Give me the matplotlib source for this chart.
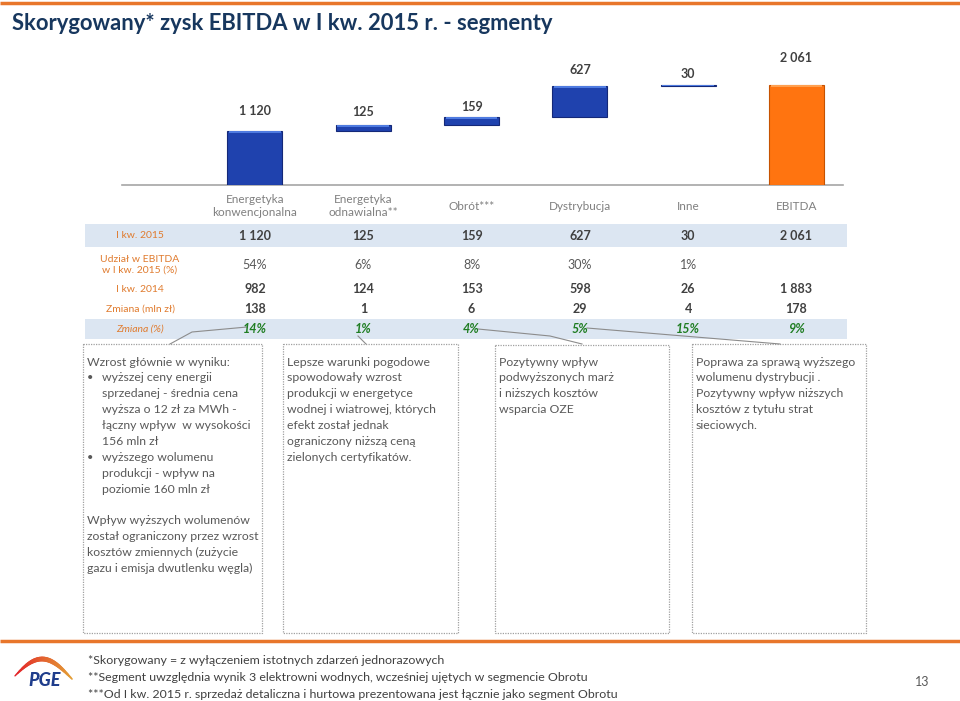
import matplotlib
matplotlib.use('Agg')
import matplotlib.pyplot as plt
import numpy as np
from matplotlib.patches import Rectangle
from matplotlib.collections import LineCollection

plt.rcParams['font.family'] = ['Lato', 'DejaVu Sans']

# ---------------- data ----------------
title = "Skorygowany* zysk EBITDA w I kw. 2015 r. - segmenty"
categories = ["Energetyka\nkonwencjonalna", "Energetyka\nodnawialna**", "Obrót***",
              "Dystrybucja", "Inne", "EBITDA"]
segment_2015 = [1120, 125, 159, 627, 30]
total_2015 = 2061
share_2015 = ["54%", "6%", "8%", "30%", "1%", ""]
ebitda_2014 = [982, 124, 153, 598, 26, 1883]
change_mln = [138, 1, 6, 29, 4, 178]
change_pct = ["14%", "1%", "4%", "5%", "15%", "9%"]
row_labels = ["I kw. 2015", "Udział w EBITDA\nw I kw. 2015 (%)", "I kw. 2014",
              "Zmiana (mln zł)", "Zmiana (%)"]

box_texts = [
    [("Wzrost głównie w wyniku:", 0, False),
     ("wyższej ceny energii", 1, True),
     ("sprzedanej - średnia cena", 1, False),
     ("wyższa o 12 zł za MWh -", 1, False),
     ("łączny wpływ  w wysokości", 1, False),
     ("156 mln zł", 1, False),
     ("wyższego wolumenu", 1, True),
     ("produkcji - wpływ na", 1, False),
     ("poziomie 160 mln zł", 1, False),
     ("", 0, False),
     ("Wpływ wyższych wolumenów", 0, False),
     ("został ograniczony przez wzrost", 0, False),
     ("kosztów zmiennych (zużycie", 0, False),
     ("gazu i emisja dwutlenku węgla)", 0, False)],
    [(t, 0, False) for t in ["Lepsze warunki pogodowe", "spowodowały wzrost",
                             "produkcji w energetyce", "wodnej i wiatrowej, których",
                             "efekt został jednak", "ograniczony niższą ceną",
                             "zielonych certyfikatów."]],
    [(t, 0, False) for t in ["Pozytywny wpływ", "podwyższonych marż",
                             "i niższych kosztów", "wsparcia OZE"]],
    [(t, 0, False) for t in ["Poprawa za sprawą wyższego", "wolumenu dystrybucji .",
                             "Pozytywny wpływ niższych", "kosztów z tytułu strat",
                             "sieciowych."]],
]
footnotes = ["*Skorygowany = z wyłączeniem istotnych zdarzeń jednorazowych",
             "**Segment uwzględnia wynik 3 elektrowni wodnych, wcześniej ujętych w segmencie Obrotu",
             "***Od I kw. 2015 r. sprzedaż detaliczna i hurtowa prezentowana jest łącznie jako segment Obrotu"]
page_number = "13"


def fmt(v):
    return f"{v:,}".replace(",", " ")


# ---------------- figure ----------------
W, H = 960, 701
fig = plt.figure(figsize=(W / 100, H / 100), dpi=100)
bg = fig.add_axes([0, 0, 1, 1])
bg.set_xlim(0, W)
bg.set_ylim(H, 0)
bg.axis('off')

ORANGE = '#E8762B'
GREY_TXT = '#595959'
DARK_TXT = '#404040'
LABEL_OR = '#E07B2E'
GREEN = '#1F7D22'

# top and footer orange lines
bg.plot([0, W], [2.5, 2.5], color=ORANGE, lw=2.5, solid_capstyle='butt')
bg.plot([0, W], [641, 641], color=ORANGE, lw=2.5, solid_capstyle='butt')

# title
bg.text(12, 23, title, fontsize=15.8, fontweight='bold', color='#17375E',
        ha='left', va='center')

# ---------------- waterfall chart ----------------
px_per_unit = 100 / 2061.0
x0_px, dx_px = 255.0, 108.3
ax_left, ax_right, ax_base = 122, 843, 185
ymax = 3000
ax_h = ymax * px_per_unit
ax = fig.add_axes([ax_left / W, (H - ax_base) / H, (ax_right - ax_left) / W, ax_h / H])
ax.patch.set_alpha(0)
ax.set_xlim((ax_left - x0_px) / dx_px, (ax_right - x0_px) / dx_px)
ax.set_ylim(0, ymax)
for s in ['top', 'right', 'left']:
    ax.spines[s].set_visible(False)
ax.spines['bottom'].set_color('#A6A6A6')
ax.spines['bottom'].set_linewidth(1.2)
ax.set_yticks([])
ax.set_xticks([])

values = segment_2015 + [total_2015]
bottoms = list(np.concatenate([[0], np.cumsum(segment_2015)[:-1]])) + [0]
xs = np.arange(len(values))
bw = 55 / dx_px
colors = ['#1F42AE'] * 5 + ['#FF7410']
edges = ['#142878'] * 5 + ['#C65200']
highl = ['#4F7BE0'] * 5 + ['#FFA050']
ax.bar(xs, values, bottom=bottoms, width=bw, color=colors, edgecolor=edges,
       linewidth=0.8, zorder=3)
hl_units = 2.0 / px_per_unit
hl_h = [min(hl_units, v * 0.35) for v in values]
hl_b = [b + v - h for b, v, h in zip(bottoms, values, hl_h)]
ax.bar(xs, hl_h, bottom=hl_b, width=bw * 0.94, color=highl, linewidth=0, zorder=4)

label_offsets = [20, 13, 10, 16, 11, 27]
for x, b, v, off in zip(xs, bottoms, values, label_offsets):
    ax.annotate(fmt(v), xy=(x, b + v), xytext=(0, off), textcoords='offset pixels',
                ha='center', va='center', fontsize=9, fontweight='bold', color=DARK_TXT,
                annotation_clip=False)
for x, c in zip(xs, categories):
    ax.annotate(c, xy=(x, 0), xytext=(0, -21), textcoords='offset pixels',
                ha='center', va='center', fontsize=8.5, color='#808080',
                linespacing=1.15, annotation_clip=False)

# ---------------- table ----------------
col_x = [x0_px + dx_px * i for i in range(6)]
lab_x = 140
bg.add_patch(Rectangle((85, 224), 762, 23, color='#DCE6F2', lw=0, zorder=0))
bg.add_patch(Rectangle((85, 319), 762, 20, color='#DCE6F2', lw=0, zorder=0))
row_y = [236, 265, 289, 309, 329]
bg.text(lab_x, row_y[0], row_labels[0], ha='center', va='center', fontsize=7.5, color=LABEL_OR)
bg.text(lab_x, row_y[1], row_labels[1], ha='center', va='center', fontsize=7.5, color=LABEL_OR,
        linespacing=1.2)
bg.text(lab_x, row_y[2], row_labels[2], ha='center', va='center', fontsize=7.5, color=LABEL_OR)
bg.text(lab_x, row_y[3], row_labels[3], ha='center', va='center', fontsize=7.5, color=LABEL_OR)
bg.text(lab_x, row_y[4], row_labels[4], ha='center', va='center', fontsize=7.5, color=LABEL_OR,
        style='italic')
for i, cx in enumerate(col_x):
    bg.text(cx, row_y[0], fmt(values[i]), ha='center', va='center', fontsize=9,
            fontweight='bold', color=DARK_TXT)
    bg.text(cx, row_y[1], share_2015[i], ha='center', va='center', fontsize=9, color=GREY_TXT)
    bg.text(cx, row_y[2], fmt(ebitda_2014[i]), ha='center', va='center', fontsize=9,
            fontweight='bold', color=DARK_TXT)
    bg.text(cx, row_y[3], fmt(change_mln[i]), ha='center', va='center', fontsize=9,
            fontweight='bold', color=DARK_TXT)
    bg.text(cx, row_y[4], change_pct[i], ha='center', va='center', fontsize=9,
            fontweight='bold', style='italic', color=GREEN)

# ---------------- comment boxes ----------------
boxes = [(83, 344, 262, 633), (283, 344, 458, 633), (495, 345, 669, 633), (692, 344, 866, 633)]
for (l, t, r, b) in boxes:
    bg.plot([l, r, r, l, l], [t, t, b, b, t], color='#A0A0A0', lw=0.9, ls=(0, (1, 1)))

leaders = [([247, 192, 170], [327, 332, 344]),
           ([358, 366], [336, 344]),
           ([478, 550, 582], [329, 336, 344]),
           ([587, 780], [328, 344])]
for lx, ly in leaders:
    bg.plot(lx, ly, color='#8C8C8C', lw=0.8)

line_h = 15.9
for (l, t, r, b), lines in zip(boxes, box_texts):
    y = 362
    for txt, indent, bullet in lines:
        if bullet:
            bg.text(l + 4, y, "•", ha='left', va='center', fontsize=8, color=GREY_TXT)
        if txt:
            bg.text(l + 4 + indent * 15, y, txt, ha='left', va='center', fontsize=8.8,
                    color=GREY_TXT)
        y += line_h

# ---------------- footer ----------------
for i, fn in enumerate(footnotes):
    bg.text(88, 661 + i * 16.5, fn, ha='left', va='center', fontsize=8.9, color=DARK_TXT)
bg.text(922, 682, page_number, ha='center', va='center', fontsize=9, color=GREY_TXT)

# PGE logo
t = np.linspace(0, 1, 40)
lx_ = 15 + 57 * t
ly_ = 679 - 20 * np.sin(np.pi * (t * 0.95 + 0.05))
pts = np.array([lx_, ly_]).T.reshape(-1, 1, 2)
segs = np.concatenate([pts[:-1], pts[1:]], axis=1)
cols = [(0.89, 0.13 + 0.5 * tt, 0.16 + 0.05 * tt) for tt in t[:-1]]
widths = 1 + 2.5 * np.sin(np.pi * t[:-1])
bg.add_collection(LineCollection(segs, colors=cols, linewidths=widths, capstyle='round'))
bg.text(45, 681, "PGE", ha='center', va='center', fontsize=13, fontweight='black',
        style='italic', color='#1F3D8C')

fig.savefig('out.png', dpi=100)
